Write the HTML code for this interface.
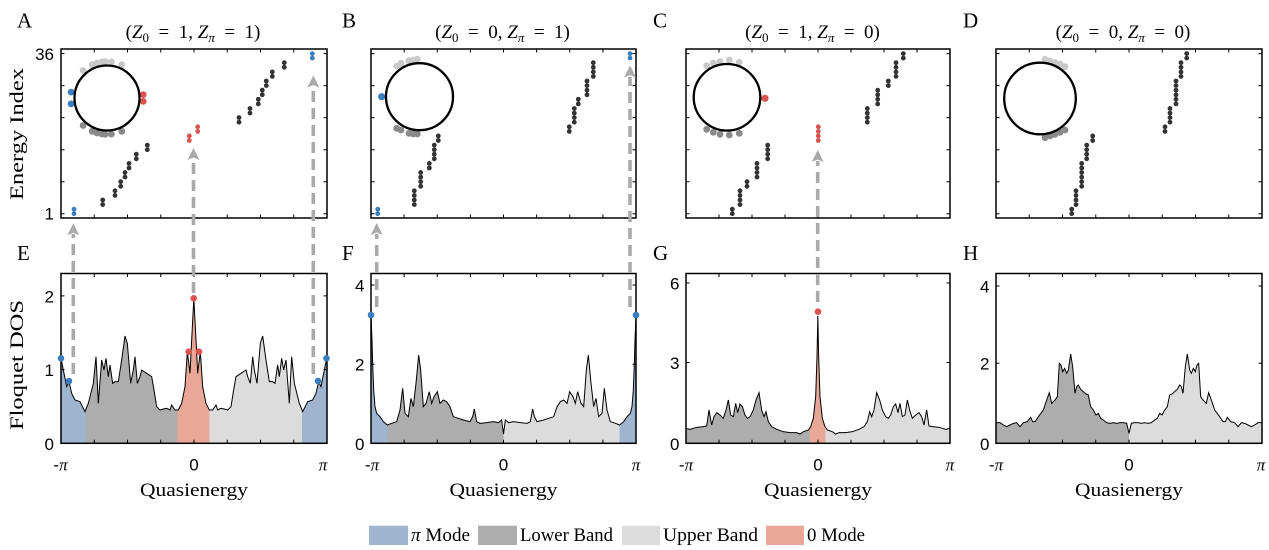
<!DOCTYPE html>
<html><head><meta charset="utf-8"><style>
html,body{margin:0;padding:0;background:#fff;}
svg{display:block;}
.sf{font-family:"Liberation Serif",serif;}
.ss{font-family:"Liberation Sans",sans-serif;}
.d{fill:#333;}
.b{fill:#3a7ebf;}
.r{fill:#d9534f;}
.lg{fill:#c9c9c9;}
.dg{fill:#8a8a8a;}
.ax{fill:none;stroke:#000;stroke-width:1.5;}
.tk{fill:none;stroke:#000;stroke-width:1;}
.cv{fill:none;stroke:#000;stroke-width:1;}
.ar{fill:none;stroke:#aaa;stroke-width:3.6;stroke-dasharray:11 6;}
.ah{fill:#aaa;}
</style></head><body>
<svg width="1269" height="550" viewBox="0 0 1269 550" xmlns="http://www.w3.org/2000/svg">
<defs>
<linearGradient id="gE" gradientUnits="userSpaceOnUse" x1="183" y1="0" x2="980" y2="0">
<stop offset="0" stop-color="#9fb4cf"/><stop offset="0.0928" stop-color="#9fb4cf"/>
<stop offset="0.0928" stop-color="#adadad"/><stop offset="0.4391" stop-color="#adadad"/>
<stop offset="0.4391" stop-color="#e9a897"/><stop offset="0.5583" stop-color="#e9a897"/>
<stop offset="0.5583" stop-color="#dcdcdc"/><stop offset="0.9072" stop-color="#dcdcdc"/>
<stop offset="0.9072" stop-color="#9fb4cf"/><stop offset="1" stop-color="#9fb4cf"/>
</linearGradient>
<linearGradient id="gF" gradientUnits="userSpaceOnUse" x1="123" y1="0" x2="918" y2="0">
<stop offset="0" stop-color="#9fb4cf"/><stop offset="0.0616" stop-color="#9fb4cf"/>
<stop offset="0.0616" stop-color="#adadad"/><stop offset="0.5" stop-color="#adadad"/>
<stop offset="0.5" stop-color="#dcdcdc"/><stop offset="0.9384" stop-color="#dcdcdc"/>
<stop offset="0.9384" stop-color="#9fb4cf"/><stop offset="1" stop-color="#9fb4cf"/>
</linearGradient>
<linearGradient id="gG" gradientUnits="userSpaceOnUse" x1="137" y1="0" x2="930" y2="0">
<stop offset="0" stop-color="#adadad"/><stop offset="0.4704" stop-color="#adadad"/>
<stop offset="0.4704" stop-color="#e9a897"/><stop offset="0.5296" stop-color="#e9a897"/>
<stop offset="0.5296" stop-color="#dcdcdc"/><stop offset="1" stop-color="#dcdcdc"/>
</linearGradient>
<linearGradient id="gH" gradientUnits="userSpaceOnUse" x1="137" y1="0" x2="937" y2="0">
<stop offset="0" stop-color="#adadad"/><stop offset="0.5" stop-color="#adadad"/>
<stop offset="0.5" stop-color="#dcdcdc"/><stop offset="1" stop-color="#dcdcdc"/>
</linearGradient>
</defs>
<rect width="1269" height="550" fill="#fff"/>

<!-- ===== DOS curves ===== -->
<g transform="translate(0,230) scale(0.333333)">
<polygon fill="url(#gE)" points="183,640 183,385 192,430 200,470 207,455 215,490 225,510 240,515 255,545 265,520 280,460 288,380 295,520 305,390 312,420 318,385 325,440 330,405 338,460 345,455 355,455 365,390 375,318 382,340 392,460 400,420 405,380 412,460 420,440 425,420 440,430 455,440 462,480 470,530 480,540 490,537 500,535 510,540 515,525 525,540 535,540 545,520 555,470 562,365 570,430 575,330 581.5,205 588,330 593,430 601,365 608,470 618,520 628,540 638,540 648,525 653,540 663,535 673,537 683,540 693,530 701,480 708,440 723,430 738,420 743,440 751,460 758,380 763,420 771,460 781,340 788,318 798,390 808,455 818,455 825,460 833,405 838,440 845,385 851,420 858,390 868,520 875,380 883,460 898,520 908,545 923,515 938,510 948,490 956,455 963,470 971,430 980,385 980,640"/>
<polyline class="cv" vector-effect="non-scaling-stroke" points="183,385 192,430 200,470 207,455 215,490 225,510 240,515 255,545 265,520 280,460 288,380 295,520 305,390 312,420 318,385 325,440 330,405 338,460 345,455 355,455 365,390 375,318 382,340 392,460 400,420 405,380 412,460 420,440 425,420 440,430 455,440 462,480 470,530 480,540 490,537 500,535 510,540 515,525 525,540 535,540 545,520 555,470 562,365 570,430 575,330 581.5,205 588,330 593,430 601,365 608,470 618,520 628,540 638,540 648,525 653,540 663,535 673,537 683,540 693,530 701,480 708,440 723,430 738,420 743,440 751,460 758,380 763,420 771,460 781,340 788,318 798,390 808,455 818,455 825,460 833,405 838,440 845,385 851,420 858,390 868,520 875,380 883,460 898,520 908,545 923,515 938,510 948,490 956,455 963,470 971,430 980,385"/>
</g>
<g transform="translate(330,230) scale(0.333333)">
<polygon fill="url(#gF)" points="123,640 123,255 126,330 128,400 131,480 135,530 140,550 150,560 160,575 172,585 185,580 200,575 210,540 218,475 225,550 235,560 243,505 250,530 258,460 266,375 272,420 280,530 288,520 298,485 305,520 312,500 322,485 330,520 340,510 350,515 360,530 370,560 385,565 400,570 420,575 428,560 433,537 440,575 450,580 470,578 490,575 505,578 515,570 520.5,612 526,570 536,578 551,575 571,578 591,580 601,575 608,537 613,560 621,575 641,570 656,565 671,560 681,530 691,515 701,510 711,520 719,485 729,500 736,520 743,485 753,520 761,530 769,420 775,375 783,460 791,530 798,505 806,560 816,550 823,475 831,540 841,575 856,580 869,585 881,575 891,560 901,550 906,530 910,480 913,400 915,330 918,255 918,640"/>
<polyline class="cv" vector-effect="non-scaling-stroke" points="123,255 126,330 128,400 131,480 135,530 140,550 150,560 160,575 172,585 185,580 200,575 210,540 218,475 225,550 235,560 243,505 250,530 258,460 266,375 272,420 280,530 288,520 298,485 305,520 312,500 322,485 330,520 340,510 350,515 360,530 370,560 385,565 400,570 420,575 428,560 433,537 440,575 450,580 470,578 490,575 505,578 515,570 520.5,612 526,570 536,578 551,575 571,578 591,580 601,575 608,537 613,560 621,575 641,570 656,565 671,560 681,530 691,515 701,510 711,520 719,485 729,500 736,520 743,485 753,520 761,530 769,420 775,375 783,460 791,530 798,505 806,560 816,550 823,475 831,540 841,575 856,580 869,585 881,575 891,560 901,550 906,530 910,480 913,400 915,330 918,255"/>
</g>
<g transform="translate(640,230) scale(0.333333)">
<polygon fill="url(#gG)" points="137,640 137,595 150,598 170,592 190,590 200,588 207,540 215,585 222,560 230,548 240,555 250,565 258,540 265,510 272,555 280,560 287,520 293,548 300,522 307,530 315,555 322,565 330,560 340,540 348,510 357,488 365,540 372,560 378,545 385,575 395,590 410,598 430,605 450,608 470,608 480,612 490,605 505,600 512,590 520,565 527,500 531,380 533.5,258 536,380 540,500 547,565 555,590 562,600 577,605 587,612 597,608 617,608 637,605 657,598 672,590 682,575 689,545 695,560 702,540 710,488 719,510 727,540 737,560 745,565 752,555 760,530 767,522 774,548 780,520 787,560 795,555 802,510 809,540 817,565 827,555 837,548 845,560 852,585 860,540 867,588 877,590 897,592 917,598 930,595 930,640"/>
<polyline class="cv" vector-effect="non-scaling-stroke" points="137,595 150,598 170,592 190,590 200,588 207,540 215,585 222,560 230,548 240,555 250,565 258,540 265,510 272,555 280,560 287,520 293,548 300,522 307,530 315,555 322,565 330,560 340,540 348,510 357,488 365,540 372,560 378,545 385,575 395,590 410,598 430,605 450,608 470,608 480,612 490,605 505,600 512,590 520,565 527,500 531,380 533.5,258 536,380 540,500 547,565 555,590 562,600 577,605 587,612 597,608 617,608 637,605 657,598 672,590 682,575 689,545 695,560 702,540 710,488 719,510 727,540 737,560 745,565 752,555 760,530 767,522 774,548 780,520 787,560 795,555 802,510 809,540 817,565 827,555 837,548 845,560 852,585 860,540 867,588 877,590 897,592 917,598 930,595"/>
</g>
<g transform="translate(950,230) scale(0.333333)">
<polygon fill="url(#gH)" points="137,640 137,578 150,578 160,585 170,590 180,585 190,580 200,578 210,590 220,578 232,575 242,562 248,575 255,575 265,560 280,540 290,510 298,488 305,520 315,510 322,500 328,400 333,405 338,425 344,415 350,430 355,420 362,372 368,410 375,490 380,470 385,465 392,478 400,485 408,492 415,495 422,530 430,540 438,555 445,550 452,565 460,570 470,578 480,580 490,578 500,580 510,578 520,578 530,580 537,610 544,580 554,578 564,578 574,580 584,578 594,580 604,578 614,570 622,565 629,550 636,555 644,540 652,530 659,495 666,492 674,485 682,478 689,465 694,470 699,490 706,410 712,372 719,420 724,430 730,415 736,425 741,405 746,400 752,500 759,510 769,520 776,488 784,510 794,540 809,560 819,575 826,575 832,562 842,575 854,578 864,590 874,578 884,580 894,585 904,590 914,585 924,578 937,578 937,640"/>
<polyline class="cv" vector-effect="non-scaling-stroke" points="137,578 150,578 160,585 170,590 180,585 190,580 200,578 210,590 220,578 232,575 242,562 248,575 255,575 265,560 280,540 290,510 298,488 305,520 315,510 322,500 328,400 333,405 338,425 344,415 350,430 355,420 362,372 368,410 375,490 380,470 385,465 392,478 400,485 408,492 415,495 422,530 430,540 438,555 445,550 452,565 460,570 470,578 480,580 490,578 500,580 510,578 520,578 530,580 537,610 544,580 554,578 564,578 574,580 584,578 594,580 604,578 614,570 622,565 629,550 636,555 644,540 652,530 659,495 666,492 674,485 682,478 689,465 694,470 699,490 706,410 712,372 719,420 724,430 730,415 736,425 741,405 746,400 752,500 759,510 769,520 776,488 784,510 794,540 809,560 819,575 826,575 832,562 842,575 854,578 864,590 874,578 884,580 894,585 904,590 914,585 924,578 937,578"/>
</g>

<!-- ===== Axes boxes ===== -->
<rect class="ax" x="61" y="49" width="266" height="169"/>
<rect class="ax" x="371" y="49" width="265" height="169"/>
<rect class="ax" x="686" y="49" width="264" height="169"/>
<rect class="ax" x="996" y="49" width="266" height="169"/>
<rect class="ax" x="61" y="273.5" width="266" height="169.8"/>
<rect class="ax" x="371" y="273.5" width="265" height="169.8"/>
<rect class="ax" x="686" y="273.5" width="264" height="169.8"/>
<rect class="ax" x="996" y="273.5" width="266" height="169.8"/>

<!-- ticks top panels -->
<path class="tk" d="M94.25,218v-3.5M127.5,218v-3.5M160.75,218v-3.5M194,218v-3.5M227.25,218v-3.5M260.5,218v-3.5M293.75,218v-3.5M94.25,49v3.5M127.5,49v3.5M160.75,49v3.5M194,49v3.5M227.25,49v3.5M260.5,49v3.5M293.75,49v3.5M61,213.7h3.5M61,181.7h3.5M61,149.7h3.5M61,117.6h3.5M61,85.6h3.5M61,53.6h3.5M327,213.7h-3.5M327,181.7h-3.5M327,149.7h-3.5M327,117.6h-3.5M327,85.6h-3.5M327,53.6h-3.5"/>
<path class="tk" d="M404.1,218v-3.5M437.25,218v-3.5M470.4,218v-3.5M503.5,218v-3.5M536.6,218v-3.5M569.75,218v-3.5M602.9,218v-3.5M404.1,49v3.5M437.25,49v3.5M470.4,49v3.5M503.5,49v3.5M536.6,49v3.5M569.75,49v3.5M602.9,49v3.5M371,213.7h3.5M371,181.7h3.5M371,149.7h3.5M371,117.6h3.5M371,85.6h3.5M371,53.6h3.5M636,213.7h-3.5M636,181.7h-3.5M636,149.7h-3.5M636,117.6h-3.5M636,85.6h-3.5M636,53.6h-3.5"/>
<path class="tk" d="M719,218v-3.5M752,218v-3.5M785,218v-3.5M818,218v-3.5M851,218v-3.5M884,218v-3.5M917,218v-3.5M719,49v3.5M752,49v3.5M785,49v3.5M818,49v3.5M851,49v3.5M884,49v3.5M917,49v3.5M686,213.7h3.5M686,181.7h3.5M686,149.7h3.5M686,117.6h3.5M686,85.6h3.5M686,53.6h3.5M950,213.7h-3.5M950,181.7h-3.5M950,149.7h-3.5M950,117.6h-3.5M950,85.6h-3.5M950,53.6h-3.5"/>
<path class="tk" d="M1029.25,218v-3.5M1062.5,218v-3.5M1095.75,218v-3.5M1129,218v-3.5M1162.25,218v-3.5M1195.5,218v-3.5M1228.75,218v-3.5M1029.25,49v3.5M1062.5,49v3.5M1095.75,49v3.5M1129,49v3.5M1162.25,49v3.5M1195.5,49v3.5M1228.75,49v3.5M996,213.7h3.5M996,181.7h3.5M996,149.7h3.5M996,117.6h3.5M996,85.6h3.5M996,53.6h3.5M1262,213.7h-3.5M1262,181.7h-3.5M1262,149.7h-3.5M1262,117.6h-3.5M1262,85.6h-3.5M1262,53.6h-3.5"/>
<!-- ticks bottom panels -->
<path class="tk" d="M94.25,443.3v-3.5M127.5,443.3v-3.5M160.75,443.3v-3.5M194,443.3v-3.5M227.25,443.3v-3.5M260.5,443.3v-3.5M293.75,443.3v-3.5M94.25,273.5v3.5M127.5,273.5v3.5M160.75,273.5v3.5M194,273.5v3.5M227.25,273.5v3.5M260.5,273.5v3.5M293.75,273.5v3.5M61,369.6h3.5M61,295.9h3.5M327,369.6h-3.5M327,295.9h-3.5"/>
<path class="tk" d="M404.1,443.3v-3.5M437.25,443.3v-3.5M470.4,443.3v-3.5M503.5,443.3v-3.5M536.6,443.3v-3.5M569.75,443.3v-3.5M602.9,443.3v-3.5M404.1,273.5v3.5M437.25,273.5v3.5M470.4,273.5v3.5M503.5,273.5v3.5M536.6,273.5v3.5M569.75,273.5v3.5M602.9,273.5v3.5M371,364.2h3.5M371,285h3.5M636,364.2h-3.5M636,285h-3.5"/>
<path class="tk" d="M719,443.3v-3.5M752,443.3v-3.5M785,443.3v-3.5M818,443.3v-3.5M851,443.3v-3.5M884,443.3v-3.5M917,443.3v-3.5M719,273.5v3.5M752,273.5v3.5M785,273.5v3.5M818,273.5v3.5M851,273.5v3.5M884,273.5v3.5M917,273.5v3.5M686,362.5h3.5M686,283h3.5M950,362.5h-3.5M950,283h-3.5"/>
<path class="tk" d="M1029.25,443.3v-3.5M1062.5,443.3v-3.5M1095.75,443.3v-3.5M1129,443.3v-3.5M1162.25,443.3v-3.5M1195.5,443.3v-3.5M1228.75,443.3v-3.5M1029.25,273.5v3.5M1062.5,273.5v3.5M1095.75,273.5v3.5M1129,273.5v3.5M1162.25,273.5v3.5M1195.5,273.5v3.5M1228.75,273.5v3.5M996,363.3h3.5M996,286h3.5M1262,363.3h-3.5M1262,286h-3.5"/>

<!-- ===== Scatter dots: panel A ===== -->
<g>
<circle class="b" cx="74" cy="213.7" r="2.4"/><circle class="b" cx="74" cy="209.2" r="2.4"/>
<circle class="d" cx="102.7" cy="204.6" r="2.4"/><circle class="d" cx="102.7" cy="200" r="2.4"/>
<circle class="d" cx="115" cy="195.4" r="2.4"/><circle class="d" cx="115" cy="190.8" r="2.4"/>
<circle class="d" cx="120.7" cy="186.3" r="2.4"/><circle class="d" cx="120.7" cy="181.7" r="2.4"/>
<circle class="d" cx="125" cy="177.1" r="2.4"/><circle class="d" cx="125" cy="172.5" r="2.4"/>
<circle class="d" cx="129" cy="168" r="2.4"/><circle class="d" cx="129" cy="163.4" r="2.4"/>
<circle class="d" cx="136.3" cy="158.8" r="2.4"/><circle class="d" cx="136.3" cy="154.2" r="2.4"/>
<circle class="d" cx="147.3" cy="149.7" r="2.4"/><circle class="d" cx="147.3" cy="145.1" r="2.4"/>
<circle class="r" cx="189.3" cy="140.5" r="2.4"/><circle class="r" cx="189.3" cy="135.9" r="2.4"/>
<circle class="r" cx="197.7" cy="131.4" r="2.4"/><circle class="r" cx="197.7" cy="126.8" r="2.4"/>
<circle class="d" cx="239" cy="122.2" r="2.4"/><circle class="d" cx="239" cy="117.6" r="2.4"/>
<circle class="d" cx="250" cy="113.1" r="2.4"/><circle class="d" cx="250" cy="108.5" r="2.4"/>
<circle class="d" cx="258.3" cy="103.9" r="2.4"/><circle class="d" cx="258.3" cy="99.3" r="2.4"/>
<circle class="d" cx="262.3" cy="94.8" r="2.4"/><circle class="d" cx="262.3" cy="90.2" r="2.4"/>
<circle class="d" cx="266.3" cy="85.6" r="2.4"/><circle class="d" cx="266.3" cy="81" r="2.4"/>
<circle class="d" cx="272.3" cy="76.4" r="2.4"/><circle class="d" cx="272.3" cy="71.9" r="2.4"/>
<circle class="d" cx="284.3" cy="67.3" r="2.4"/><circle class="d" cx="284.3" cy="62.7" r="2.4"/>
<circle class="b" cx="312.3" cy="58.1" r="2.4"/><circle class="b" cx="312.3" cy="53.6" r="2.4"/>
</g>
<!-- panel B -->
<g>
<circle class="b" cx="377.7" cy="213.7" r="2.4"/><circle class="b" cx="377.7" cy="209.2" r="2.4"/>
<circle class="d" cx="414.3" cy="204.6" r="2.4"/><circle class="d" cx="414.3" cy="200" r="2.4"/><circle class="d" cx="414.3" cy="195.4" r="2.4"/><circle class="d" cx="414.3" cy="190.8" r="2.4"/>
<circle class="d" cx="420.7" cy="186.3" r="2.4"/><circle class="d" cx="420.7" cy="181.7" r="2.4"/><circle class="d" cx="420.7" cy="177.1" r="2.4"/><circle class="d" cx="420.7" cy="172.5" r="2.4"/>
<circle class="d" cx="429.3" cy="168" r="2.4"/><circle class="d" cx="429.3" cy="163.4" r="2.4"/>
<circle class="d" cx="434.3" cy="158.8" r="2.4"/><circle class="d" cx="434.3" cy="154.2" r="2.4"/><circle class="d" cx="434.3" cy="149.7" r="2.4"/><circle class="d" cx="434.3" cy="145.1" r="2.4"/>
<circle class="d" cx="438.3" cy="140.5" r="2.4"/><circle class="d" cx="438.3" cy="135.9" r="2.4"/>
<circle class="d" cx="569.3" cy="131.4" r="2.4"/><circle class="d" cx="569.3" cy="126.8" r="2.4"/>
<circle class="d" cx="574.3" cy="122.2" r="2.4"/><circle class="d" cx="574.3" cy="117.6" r="2.4"/><circle class="d" cx="574.3" cy="113.1" r="2.4"/><circle class="d" cx="574.3" cy="108.5" r="2.4"/>
<circle class="d" cx="578.3" cy="103.9" r="2.4"/><circle class="d" cx="578.3" cy="99.3" r="2.4"/>
<circle class="d" cx="587" cy="94.8" r="2.4"/><circle class="d" cx="587" cy="90.2" r="2.4"/><circle class="d" cx="587" cy="85.6" r="2.4"/><circle class="d" cx="587" cy="81" r="2.4"/>
<circle class="d" cx="593.3" cy="76.4" r="2.4"/><circle class="d" cx="593.3" cy="71.9" r="2.4"/><circle class="d" cx="593.3" cy="67.3" r="2.4"/><circle class="d" cx="593.3" cy="62.7" r="2.4"/>
<circle class="b" cx="630" cy="58.1" r="2.4"/><circle class="b" cx="630" cy="53.6" r="2.4"/>
</g>
<!-- panel C -->
<g>
<circle class="d" cx="732.3" cy="213.7" r="2.4"/><circle class="d" cx="732.3" cy="209.2" r="2.4"/>
<circle class="d" cx="740" cy="204.6" r="2.4"/><circle class="d" cx="740" cy="200" r="2.4"/><circle class="d" cx="740" cy="195.4" r="2.4"/><circle class="d" cx="740" cy="190.8" r="2.4"/>
<circle class="d" cx="747" cy="186.3" r="2.4"/><circle class="d" cx="747" cy="181.7" r="2.4"/>
<circle class="d" cx="757" cy="177.1" r="2.4"/><circle class="d" cx="757" cy="172.5" r="2.4"/><circle class="d" cx="757" cy="168" r="2.4"/><circle class="d" cx="757" cy="163.4" r="2.4"/>
<circle class="d" cx="767.7" cy="158.8" r="2.4"/><circle class="d" cx="767.7" cy="154.2" r="2.4"/><circle class="d" cx="767.7" cy="149.7" r="2.4"/><circle class="d" cx="767.7" cy="145.1" r="2.4"/>
<circle class="r" cx="818.3" cy="140.5" r="2.4"/><circle class="r" cx="818.3" cy="135.9" r="2.4"/><circle class="r" cx="818.3" cy="131.4" r="2.4"/><circle class="r" cx="818.3" cy="126.8" r="2.4"/>
<circle class="d" cx="867.3" cy="122.2" r="2.4"/><circle class="d" cx="867.3" cy="117.6" r="2.4"/><circle class="d" cx="867.3" cy="113.1" r="2.4"/><circle class="d" cx="867.3" cy="108.5" r="2.4"/>
<circle class="d" cx="877.7" cy="103.9" r="2.4"/><circle class="d" cx="877.7" cy="99.3" r="2.4"/><circle class="d" cx="877.7" cy="94.8" r="2.4"/><circle class="d" cx="877.7" cy="90.2" r="2.4"/>
<circle class="d" cx="888.3" cy="85.6" r="2.4"/><circle class="d" cx="888.3" cy="81" r="2.4"/>
<circle class="d" cx="896" cy="76.4" r="2.4"/><circle class="d" cx="896" cy="71.9" r="2.4"/><circle class="d" cx="896" cy="67.3" r="2.4"/><circle class="d" cx="896" cy="62.7" r="2.4"/>
<circle class="d" cx="903.3" cy="58.1" r="2.4"/><circle class="d" cx="903.3" cy="53.6" r="2.4"/>
</g>
<!-- panel D -->
<g>
<circle class="d" cx="1071.7" cy="213.7" r="2.4"/><circle class="d" cx="1071.7" cy="209.2" r="2.4"/>
<circle class="d" cx="1076" cy="204.6" r="2.4"/><circle class="d" cx="1076" cy="200" r="2.4"/><circle class="d" cx="1076" cy="195.4" r="2.4"/><circle class="d" cx="1076" cy="190.8" r="2.4"/>
<circle class="d" cx="1081.7" cy="186.3" r="2.4"/><circle class="d" cx="1081.7" cy="181.7" r="2.4"/><circle class="d" cx="1081.7" cy="177.1" r="2.4"/><circle class="d" cx="1081.7" cy="172.5" r="2.4"/><circle class="d" cx="1081.7" cy="168" r="2.4"/><circle class="d" cx="1081.7" cy="163.4" r="2.4"/>
<circle class="d" cx="1086.7" cy="158.8" r="2.4"/><circle class="d" cx="1086.7" cy="154.2" r="2.4"/><circle class="d" cx="1086.7" cy="149.7" r="2.4"/><circle class="d" cx="1086.7" cy="145.1" r="2.4"/>
<circle class="d" cx="1092.7" cy="140.5" r="2.4"/><circle class="d" cx="1092.7" cy="135.9" r="2.4"/>
<circle class="d" cx="1165" cy="131.4" r="2.4"/><circle class="d" cx="1165" cy="126.8" r="2.4"/>
<circle class="d" cx="1170" cy="122.2" r="2.4"/><circle class="d" cx="1170" cy="117.6" r="2.4"/><circle class="d" cx="1170" cy="113.1" r="2.4"/><circle class="d" cx="1170" cy="108.5" r="2.4"/>
<circle class="d" cx="1176" cy="103.9" r="2.4"/><circle class="d" cx="1176" cy="99.3" r="2.4"/><circle class="d" cx="1176" cy="94.8" r="2.4"/><circle class="d" cx="1176" cy="90.2" r="2.4"/><circle class="d" cx="1176" cy="85.6" r="2.4"/><circle class="d" cx="1176" cy="81" r="2.4"/>
<circle class="d" cx="1181" cy="76.4" r="2.4"/><circle class="d" cx="1181" cy="71.9" r="2.4"/><circle class="d" cx="1181" cy="67.3" r="2.4"/><circle class="d" cx="1181" cy="62.7" r="2.4"/>
<circle class="d" cx="1186.7" cy="58.1" r="2.4"/><circle class="d" cx="1186.7" cy="53.6" r="2.4"/>
</g>

<!-- ===== Unit circles ===== -->
<g>
<circle class="lg" cx="83.1" cy="70.5" r="3.4"/><circle class="lg" cx="92.2" cy="64.7" r="3.4"/><circle class="lg" cx="97" cy="63" r="3.4"/><circle class="lg" cx="101.9" cy="62" r="3.4"/><circle class="lg" cx="105.1" cy="61.6" r="3.4"/><circle class="lg" cx="111.4" cy="61.9" r="3.4"/><circle class="lg" cx="121.8" cy="64.7" r="3.4"/>
<circle class="dg" cx="83.1" cy="125.5" r="3.4"/><circle class="dg" cx="92.2" cy="131.3" r="3.4"/><circle class="dg" cx="97" cy="133" r="3.4"/><circle class="dg" cx="101.9" cy="134" r="3.4"/><circle class="dg" cx="105.1" cy="134.4" r="3.4"/><circle class="dg" cx="111.4" cy="134.1" r="3.4"/><circle class="dg" cx="121.8" cy="131.3" r="3.4"/>
<circle class="b" cx="71.1" cy="92.1" r="3.4"/><circle class="b" cx="71.1" cy="103.9" r="3.4"/>
<circle class="r" cx="143.2" cy="94.6" r="3.4"/><circle class="r" cx="143.2" cy="101.4" r="3.4"/>
<circle cx="107" cy="98" r="32.5" fill="none" stroke="#000" stroke-width="2.3"/>
</g>
<g>
<circle class="lg" cx="396.7" cy="66" r="3.4"/><circle class="lg" cx="401" cy="63.3" r="3.4"/><circle class="lg" cx="409" cy="60.7" r="3.4"/><circle class="lg" cx="413.3" cy="60" r="3.4"/><circle class="lg" cx="417.3" cy="59.3" r="3.4"/>
<circle class="dg" cx="396.7" cy="128.3" r="3.4"/><circle class="dg" cx="401" cy="130" r="3.4"/><circle class="dg" cx="409" cy="133.3" r="3.4"/><circle class="dg" cx="413.3" cy="134" r="3.4"/><circle class="dg" cx="417.3" cy="134" r="3.4"/>
<circle class="b" cx="381.7" cy="96.7" r="3.6"/>
<circle cx="419.5" cy="96.7" r="33.5" fill="none" stroke="#000" stroke-width="2.3"/>
</g>
<g>
<circle class="lg" cx="706.7" cy="65.7" r="3.4"/><circle class="lg" cx="713.3" cy="63" r="3.4"/><circle class="lg" cx="720" cy="61.7" r="3.4"/><circle class="lg" cx="729.3" cy="60" r="3.4"/><circle class="lg" cx="739.3" cy="62.3" r="3.4"/>
<circle class="dg" cx="706.7" cy="129.3" r="3.4"/><circle class="dg" cx="713.3" cy="132.3" r="3.4"/><circle class="dg" cx="720" cy="134.3" r="3.4"/><circle class="dg" cx="729.3" cy="135" r="3.4"/><circle class="dg" cx="739.3" cy="133.3" r="3.4"/>
<circle class="r" cx="765" cy="98.3" r="3.6"/>
<circle cx="727" cy="97.3" r="33.3" fill="none" stroke="#000" stroke-width="2.3"/>
</g>
<g>
<circle class="lg" cx="1045" cy="59.3" r="3.4"/><circle class="lg" cx="1050" cy="61" r="3.4"/><circle class="lg" cx="1055" cy="62.7" r="3.4"/><circle class="lg" cx="1060" cy="64" r="3.4"/><circle class="lg" cx="1065" cy="66.7" r="3.4"/>
<circle class="dg" cx="1045" cy="137.7" r="3.4"/><circle class="dg" cx="1050" cy="136" r="3.4"/><circle class="dg" cx="1055" cy="134.3" r="3.4"/><circle class="dg" cx="1060" cy="132.3" r="3.4"/><circle class="dg" cx="1065" cy="130" r="3.4"/>
<circle cx="1040" cy="98.5" r="35.8" fill="none" stroke="#000" stroke-width="2.3"/>
</g>

<!-- ===== DOS dots ===== -->
<circle class="b" cx="61" cy="358.3" r="3.3"/><circle class="b" cx="69" cy="381" r="3.3"/>
<circle class="b" cx="318" cy="381" r="3.3"/><circle class="b" cx="326.5" cy="358.3" r="3.3"/>
<circle class="r" cx="193.7" cy="298.3" r="3.3"/><circle class="r" cx="188.7" cy="351.7" r="3.3"/><circle class="r" cx="199" cy="351.7" r="3.3"/>
<circle class="b" cx="371" cy="315" r="3.3"/><circle class="b" cx="636" cy="315" r="3.3"/>
<circle class="r" cx="818" cy="311.7" r="3.3"/>

<!-- ===== Dashed arrows ===== -->
<path class="ar" d="M73.3,374V234"/><path class="ah" d="M73.3,223.3l6,12l-6,-2.5l-6,2.5z"/>
<path class="ar" d="M193.5,293V159"/><path class="ah" d="M193.5,148l6,12l-6,-2.5l-6,2.5z"/>
<path class="ar" d="M313.3,374V87"/><path class="ah" d="M313.3,75.5l6,12l-6,-2.5l-6,2.5z"/>
<path class="ar" d="M376.7,307V234"/><path class="ah" d="M376.7,223l6,12l-6,-2.5l-6,2.5z"/>
<path class="ar" d="M630,307V77"/><path class="ah" d="M630,65.5l6,12l-6,-2.5l-6,2.5z"/>
<path class="ar" d="M817.7,302V161"/><path class="ah" d="M817.7,150l6,12l-6,-2.5l-6,2.5z"/>

<!-- ===== Text ===== -->
<g class="sf" font-size="21" fill="#000">
<text x="17" y="27.5">A</text>
<text x="342" y="27.5">B</text>
<text x="653" y="27.5">C</text>
<text x="963" y="27.5">D</text>
<text x="17" y="260">E</text>
<text x="342" y="260">F</text>
<text x="653" y="260">G</text>
<text x="963" y="260">H</text>
</g>
<g class="sf" font-size="19" fill="#000" text-anchor="middle">
<text x="193" y="38">(<tspan font-style="italic">Z</tspan><tspan font-size="13" dy="4">0</tspan><tspan dy="-4">&#8194;=&#8194;1, </tspan><tspan font-style="italic">Z</tspan><tspan font-size="13" dy="4" font-style="italic">π</tspan><tspan dy="-4">&#8194;=&#8194;1)</tspan></text>
<text x="502.5" y="38">(<tspan font-style="italic">Z</tspan><tspan font-size="13" dy="4">0</tspan><tspan dy="-4">&#8194;=&#8194;0, </tspan><tspan font-style="italic">Z</tspan><tspan font-size="13" dy="4" font-style="italic">π</tspan><tspan dy="-4">&#8194;=&#8194;1)</tspan></text>
<text x="812.5" y="38">(<tspan font-style="italic">Z</tspan><tspan font-size="13" dy="4">0</tspan><tspan dy="-4">&#8194;=&#8194;1, </tspan><tspan font-style="italic">Z</tspan><tspan font-size="13" dy="4" font-style="italic">π</tspan><tspan dy="-4">&#8194;=&#8194;0)</tspan></text>
<text x="1123" y="38">(<tspan font-style="italic">Z</tspan><tspan font-size="13" dy="4">0</tspan><tspan dy="-4">&#8194;=&#8194;0, </tspan><tspan font-style="italic">Z</tspan><tspan font-size="13" dy="4" font-style="italic">π</tspan><tspan dy="-4">&#8194;=&#8194;0)</tspan></text>
</g>
<g class="sf" font-size="19" fill="#000">
<text transform="translate(23,134) rotate(-90)" text-anchor="middle" textLength="132" lengthAdjust="spacingAndGlyphs">Energy Index</text>
<text transform="translate(23,365) rotate(-90)" text-anchor="middle" textLength="130" lengthAdjust="spacingAndGlyphs">Floquet DOS</text>
<text x="194" y="496" text-anchor="middle" textLength="108" lengthAdjust="spacingAndGlyphs">Quasienergy</text>
<text x="503.5" y="496" text-anchor="middle" textLength="108" lengthAdjust="spacingAndGlyphs">Quasienergy</text>
<text x="818" y="496" text-anchor="middle" textLength="108" lengthAdjust="spacingAndGlyphs">Quasienergy</text>
<text x="1129" y="496" text-anchor="middle" textLength="108" lengthAdjust="spacingAndGlyphs">Quasienergy</text>
</g>
<!-- y tick labels -->
<g class="ss" font-size="17" fill="#000" text-anchor="end">
<text x="54" y="59.8">36</text>
<text x="54" y="219.5">1</text>
<text x="54" y="302.4">2</text>
<text x="54" y="376">1</text>
<text x="54" y="449.8">0</text>
<text x="364.5" y="291.3">4</text>
<text x="364.5" y="370.6">2</text>
<text x="364.5" y="449.8">0</text>
<text x="679.5" y="289.4">6</text>
<text x="679.5" y="368.9">3</text>
<text x="679.5" y="449.8">0</text>
<text x="989.5" y="292.4">4</text>
<text x="989.5" y="369.7">2</text>
<text x="989.5" y="449.8">0</text>
</g>
<!-- x tick labels -->
<g font-size="17" fill="#000" text-anchor="middle">
<text x="60.5" y="470.5"><tspan class="ss">-</tspan><tspan class="sf" font-style="italic">π</tspan></text>
<text class="ss" x="194" y="470.5">0</text>
<text class="sf" font-style="italic" x="323" y="470.5">π</text>
<text x="372" y="470.5"><tspan class="ss">-</tspan><tspan class="sf" font-style="italic">π</tspan></text>
<text class="ss" x="503.5" y="470.5">0</text>
<text class="sf" font-style="italic" x="636" y="470.5">π</text>
<text x="686" y="470.5"><tspan class="ss">-</tspan><tspan class="sf" font-style="italic">π</tspan></text>
<text class="ss" x="818" y="470.5">0</text>
<text class="sf" font-style="italic" x="950" y="470.5">π</text>
<text x="996" y="470.5"><tspan class="ss">-</tspan><tspan class="sf" font-style="italic">π</tspan></text>
<text class="ss" x="1129" y="470.5">0</text>
<text class="sf" font-style="italic" x="1261" y="470.5">π</text>
</g>

<!-- ===== Legend ===== -->
<rect x="369" y="525.7" width="39" height="19.3" fill="#9fb4cf"/>
<rect x="478" y="525.7" width="39" height="19.3" fill="#adadad"/>
<rect x="622" y="525.7" width="38" height="19.3" fill="#dcdcdc"/>
<rect x="766" y="525.7" width="38" height="19.3" fill="#e9a897"/>
<g class="sf" font-size="19" fill="#000">
<text x="411" y="541" textLength="59" lengthAdjust="spacingAndGlyphs"><tspan font-style="italic">π</tspan> Mode</text>
<text x="520" y="541" textLength="93" lengthAdjust="spacingAndGlyphs">Lower Band</text>
<text x="663" y="541" textLength="95" lengthAdjust="spacingAndGlyphs">Upper Band</text>
<text x="807" y="541" textLength="58" lengthAdjust="spacingAndGlyphs">0 Mode</text>
</g>
</svg>
</body></html>
